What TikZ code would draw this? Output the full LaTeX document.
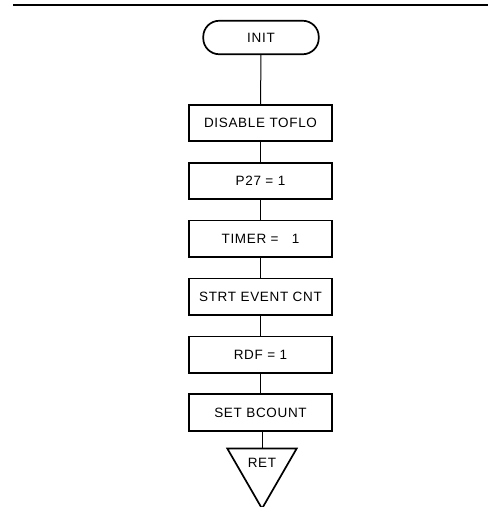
\documentclass[tikz,border=0pt]{standalone}
\usepackage{fontspec}
\setmainfont{Liberation Sans}[LetterSpace=5]
\usepackage{tikz}
\usetikzlibrary{positioning, shapes.geometric}

\begin{document}
\begin{tikzpicture}[x=1pt,y=1pt,
  font=\fontsize{13.5}{15}\selectfont,
  node distance=19.7pt,
  step box/.style={draw, line width=1.7pt, minimum width=143.5pt, minimum height=36.5pt, inner sep=0pt},
  term/.style={draw, line width=1.7pt, rounded corners=16pt, minimum width=115.5pt, minimum height=33.5pt},
  ret tri/.style={draw, line width=1.7pt, regular polygon, regular polygon sides=3,
    regular polygon rotate=180, minimum size=75pt, inner sep=0pt, text depth=11.5pt},
  link/.style={line width=1pt}]

\useasboundingbox (0,0) rectangle (488,-507);

% ============================
% TOP RULE
% ============================

\draw[line width=1.4pt] (13,-5) -- (488,-5);

% ============================
% FLOW
% ============================

\node[term] (init) at (261,-37.5) {INIT};

\node[step box] (distof) at (260.5,-123) {DISABLE TOFLO};
\node[step box, below=of distof] (ptwo) {P27 = 1};
\node[step box, below=of ptwo] (timer) {TIMER =\ \ \ 1};
\node[step box, below=of timer] (evcnt) {STRT EVENT CNT};
\node[step box, below=of evcnt] (rdf) {RDF = 1};
\node[step box, below=of rdf] (bcount) {SET BCOUNT};

\node[ret tri] (ret) at (262,-468.5) {RET};

% ============================
% CONNECTORS
% ============================

\draw[link] (init) -- (distof);
\draw[link] (distof) -- (ptwo);
\draw[link] (ptwo) -- (timer);
\draw[link] (timer) -- (evcnt);
\draw[link] (evcnt) -- (rdf);
\draw[link] (rdf) -- (bcount);
\draw[link] (bcount.south -| ret.north) -- (ret.north);

\end{tikzpicture}
\end{document}
